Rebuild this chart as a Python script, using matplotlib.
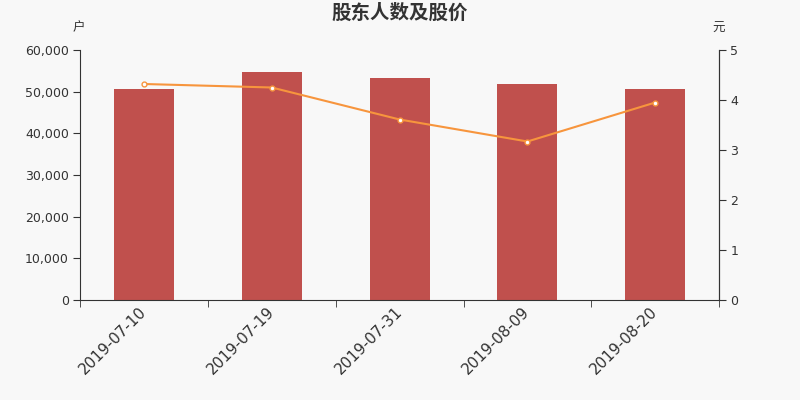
import numpy as np
import matplotlib.pyplot as plt

plt.rcParams['font.family'] = ['DejaVu Sans', 'Noto Sans CJK SC']

dates = ['2019-07-10', '2019-07-19', '2019-07-31', '2019-08-09', '2019-08-20']
holders = [50640, 54720, 53200, 51840, 50720]
prices = [4.32, 4.25, 3.61, 3.17, 3.95]

bg = '#f8f8f8'
txt = '#333333'
cjk = ['Noto Sans CJK SC', 'DejaVu Sans']

fig = plt.figure(figsize=(8, 4), dpi=100, facecolor=bg)
ax = fig.add_axes([0.1, 0.25, 0.799, 0.625], facecolor=bg)
x = np.arange(len(dates))
ax.bar(x, holders, width=0.47, color='#c0504d', zorder=2)
ax.set_xlim(-0.5, len(dates) - 0.5)
ax.set_ylim(0, 60000)
ax.set_yticks(range(0, 60001, 10000))
ax.set_yticklabels([f'{v:,}' for v in range(0, 60001, 10000)], fontsize=9, color=txt)
ax.set_xticks(x)
ax.set_xticklabels(dates, rotation=45, ha='right', va='center', rotation_mode='anchor',
                   fontsize=11, color=txt)
ax.tick_params(axis='x', length=0, pad=7)
ax.set_xticks(np.arange(-0.5, len(dates)), minor=True)
ax.tick_params(axis='x', which='minor', length=5, color=txt)
ax.tick_params(axis='y', length=5, color=txt, pad=3)
ax.spines['top'].set_visible(False)
for s in ['left', 'bottom', 'right']:
    ax.spines[s].set_color(txt)

ax2 = ax.twinx()
ax2.plot(x, prices, color='#f7953d', lw=1.5, marker='o', ms=3.5,
         mfc='white', mec='#f7953d', mew=1, zorder=3)
ax2.set_ylim(0, 5)
ax2.set_yticks(range(0, 6))
ax2.tick_params(axis='y', length=5, color=txt, labelsize=9, labelcolor=txt, pad=3)
ax2.spines['top'].set_visible(False)
ax2.spines['right'].set_color(txt)
ax2.spines['left'].set_visible(False)
ax2.spines['bottom'].set_visible(False)

fig.text(0.5, 0.967, '股东人数及股价', ha='center', va='center', fontsize=14,
         fontweight='bold', color=txt, family=cjk)
fig.text(0.098, 0.93, '户', ha='center', va='center', fontsize=9, color=txt, family=cjk)
fig.text(0.898, 0.93, '元', ha='center', va='center', fontsize=9, color=txt, family=cjk)

fig.savefig('out.png', dpi=100, facecolor=bg)
